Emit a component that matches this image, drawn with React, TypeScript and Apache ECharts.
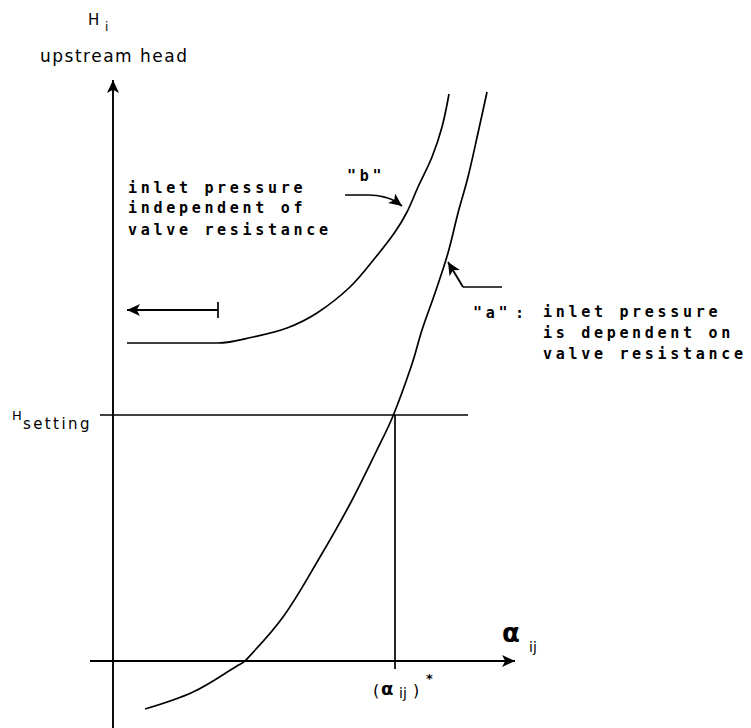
import React, { useEffect, useRef } from "react";
import * as echarts from "echarts";

// Data units: x = resistance alpha_ij, y = upstream head H_i (schematic units)
const curveA: number[][] = [
  [3.2, -4.8], [8.0, -3.1], [12.4, -0.5], [13.2, 0], [17.0, 4.4], [20.7, 10.4],
  [23.7, 15.7], [26.3, 20.9], [28.0, 24.5], [29.9, 29.7], [30.9, 33.1], [32.2, 36.8],
  [33.5, 40.8], [34.5, 44.8], [35.5, 48.4], [36.5, 52.8], [37.4, 56.9],
];
const curveB: number[][] = [
  [1.4, 31.8], [10.5, 31.8], [14.0, 32.4], [17.4, 33.3], [20.4, 34.8], [23.7, 37.4],
  [26.2, 40.3], [28.2, 42.9], [29.4, 44.9], [30.5, 47.4], [31.9, 50.4], [32.9, 53.4],
  [33.6, 56.7],
];
const hSetting = 24.6;
const alphaStar = 28.2;
const xAxisRange = [-2.3, 40.2];
const yAxisRange = [-6.7, 58.1];
const hSettingRange = [-1.3, 35.5];
const dropBottom = -0.8;
const leftArrow: number[][] = [[10.5, 35.1], [1.4, 35.1]];
const leftArrowTick: number[][] = [[10.5, 35.9], [10.5, 34.3]];
const bPointerShaft: number[][] = [[23.2, 46.6], [25.6, 46.6], [27.3, 46.35], [28.3, 45.95]];
const bPointerTip: number[] = [28.9, 45.5];
const aPointer: number[][] = [[38.9, 37.4], [35.0, 37.4], [33.5, 39.9]];

const leftNote = ["inlet pressure", "independent of", "valve resistance"];
const rightNote = ["inlet pressure", "is dependent on", "valve resistance"];

const SANS = "DejaVu Sans";
const MONO = "DejaVu Sans Mono";
const MONO_LS = 3.7;

const spacing: Record<string, number> = {
  "upstream head": 1.5,
  setting: 2.4,
  '"b"': MONO_LS,
  '"a"': MONO_LS,
  "inlet pressure": MONO_LS,
  "independent of": MONO_LS,
  "valve resistance": MONO_LS,
  "is dependent on": MONO_LS,
};

function txt(text: string, x: number, y: number, size: number, family = SANS, weight = "normal") {
  return {
    type: "text",
    x,
    y,
    silent: true,
    style: {
      text,
      fill: "#000",
      fontSize: size,
      fontFamily: family,
      fontWeight: weight,
      align: "left",
      verticalAlign: "middle",
    },
  };
}

export default function App() {
  const ref = useRef<HTMLDivElement>(null);
  useEffect(() => {
    if (!ref.current) return;
    const chart = echarts.init(ref.current, undefined, { renderer: "svg" });
    const black = "#000";
    const base = {
      type: "line",
      symbol: "none",
      silent: true,
      animation: false,
      emphasis: { disabled: true },
      lineStyle: { color: black, width: 1.7 },
    };
    const arrowMark = {
      silent: true,
      symbol: ["none", "arrow"],
      symbolSize: [9, 13],
      label: { show: false },
      emphasis: { disabled: true },
      lineStyle: { color: black, width: 1.9, type: "solid" },
    };
    const graphic: any[] = [
      txt("H", 88, 20, 15),
      txt("i", 105, 27, 12),
      txt("upstream head", 40, 56, 17),
      ...leftNote.map((t, i) => txt(t, 128, [188, 208, 230][i], 15, MONO, "bold")),
      txt('"b"', 347, 176, 15, MONO, "bold"),
      txt('"a"', 473, 313, 15, MONO, "bold"),
      txt(":", 515, 313, 15, MONO, "bold"),
      ...rightNote.map((t, i) => txt(t, 543, [312, 333, 354][i], 15, MONO, "bold")),
      txt("H", 12, 415, 13),
      txt("setting", 23, 424, 15),
      txt("α", 502, 633, 26, SANS, "bold"),
      txt("ij", 529, 647, 14),
      txt("(", 373, 690, 16),
      txt("α", 381, 688, 18, SANS, "bold"),
      txt("ij", 399, 693, 14),
      txt(")", 413, 690, 16),
      txt("*", 426, 678, 13, SANS, "bold"),
    ];
    chart.setOption({
      animation: false,
      backgroundColor: "#fff",
      grid: { left: 0, right: 0, top: 0, bottom: 0, containLabel: false },
      xAxis: { type: "value", min: -11.3, max: 63.8, show: false },
      yAxis: { type: "value", min: -6.7, max: 66.1, show: false },
      graphic,
      series: [
        { ...base, name: "a", data: curveA, smooth: 0.35 },
        { ...base, name: "b", data: curveB, smooth: 0.35 },
        { ...base, name: "setting", data: [[hSettingRange[0], hSetting], [hSettingRange[1], hSetting]] },
        { ...base, name: "drop", data: [[alphaStar, hSetting], [alphaStar, dropBottom]] },
        { ...base, name: "tick", data: leftArrowTick },
        { ...base, name: "aShaft", data: aPointer.slice(0, 2), lineStyle: { color: black, width: 1.5 } },
        { ...base, name: "bShaft", data: bPointerShaft, smooth: 0.4, lineStyle: { color: black, width: 1.7 } },
        {
          ...base,
          name: "axes",
          data: [],
          markLine: {
            ...arrowMark,
            data: [
              [{ coord: [0, yAxisRange[0]] }, { coord: [0, yAxisRange[1]] }],
              [{ coord: [xAxisRange[0], 0] }, { coord: [xAxisRange[1], 0] }],
              [{ coord: leftArrow[0] }, { coord: leftArrow[1] }],
              [{ coord: aPointer[1] }, { coord: aPointer[2] }],
              [{ coord: bPointerShaft[bPointerShaft.length - 1] }, { coord: bPointerTip }],
            ],
          },
        },
      ],
    });
    const applySpacing = () => {
      const el = ref.current;
      if (!el) return;
      el.querySelectorAll("text").forEach((t) => {
        const c = (t.textContent || "").trim();
        if (spacing[c] !== undefined) t.setAttribute("letter-spacing", String(spacing[c]));
      });
    };
    applySpacing();
    chart.on("finished", applySpacing);
    const id = requestAnimationFrame(applySpacing);
    const id2 = setTimeout(applySpacing, 50);
    return () => {
      cancelAnimationFrame(id);
      clearTimeout(id2);
      chart.dispose();
    };
  }, []);
  return (
    <div
      ref={ref}
      style={{ position: "absolute", left: 0, top: 0, width: 751, height: 728, background: "#fff" }}
    />
  );
}
